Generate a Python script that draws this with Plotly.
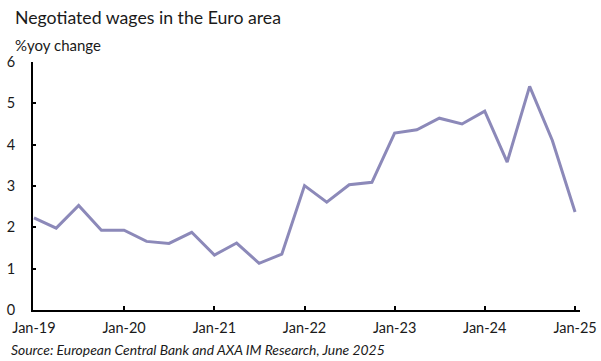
import plotly.graph_objects as go

dates = ["2019-01-01","2019-04-01","2019-07-01","2019-10-01",
         "2020-01-01","2020-04-01","2020-07-01","2020-10-01",
         "2021-01-01","2021-04-01","2021-07-01","2021-10-01",
         "2022-01-01","2022-04-01","2022-07-01","2022-10-01",
         "2023-01-01","2023-04-01","2023-07-01","2023-10-01",
         "2024-01-01","2024-04-01","2024-07-01","2024-10-01",
         "2025-01-01"]
wages = [2.23, 1.98, 2.53, 1.93, 1.93, 1.66, 1.61, 1.88, 1.33, 1.62, 1.13, 1.35,
         3.01, 2.61, 3.03, 3.09, 4.28, 4.36, 4.64, 4.50, 4.81, 3.58, 5.41, 4.10, 2.37]
y_ticks = [0, 1, 2, 3, 4, 5, 6]

FONT = "Lato"
TXT = "#1a1a1a"

fig = go.Figure()
fig.add_trace(go.Scatter(x=dates, y=wages, mode="lines",
                         line=dict(color="rgb(140,137,185)", width=3),
                         showlegend=False, hoverinfo="skip"))

fig.update_layout(
    width=601, height=361,
    margin=dict(l=33, r=21, t=62, b=51),
    paper_bgcolor="white", plot_bgcolor="white",
    font=dict(family=FONT, size=14, color=TXT),
    xaxis=dict(type="date", range=["2018-12-28", "2025-01-21"],
               tickformat="%b-%y", dtick="M12", tick0="2019-01-01",
               ticks="inside", ticklen=4, tickwidth=1.5, tickcolor="black",
               showline=True, linecolor="black", linewidth=2,
               showgrid=False, zeroline=False, automargin=False,
               tickfont=dict(family=FONT, size=14.5, color=TXT),
               ticklabelstandoff=4),
    yaxis=dict(range=[0, 6], tickvals=y_ticks,
               ticks="inside", ticklen=3, tickwidth=1.5, tickcolor="black",
               showline=True, linecolor="black", linewidth=2,
               showgrid=False, zeroline=False, automargin=False,
               tickfont=dict(family=FONT, size=14.5, color=TXT),
               ticklabelstandoff=13),
    annotations=[
        dict(text="Negotiated wages in the Euro area", xref="paper", yref="paper",
             x=-0.0366, y=1.181, xanchor="left", yanchor="middle", showarrow=False,
             font=dict(family=FONT, size=17.7, color=TXT)),
        dict(text="%yoy change", xref="paper", yref="paper",
             x=-0.036, y=1.069, xanchor="left", yanchor="middle", showarrow=False,
             font=dict(family=FONT, size=15, color=TXT)),
        dict(text="<i>Source: European Central Bank and AXA IM Research, June 2025</i>",
             xref="paper", yref="paper",
             x=-0.043, y=-0.161, xanchor="left", yanchor="middle", showarrow=False,
             font=dict(family=FONT, size=13.9, color=TXT)),
    ],
)

fig.write_html("out.html", config={"displayModeBar": False},
               post_script="document.body.style.margin='0';document.body.style.overflow='hidden';")
